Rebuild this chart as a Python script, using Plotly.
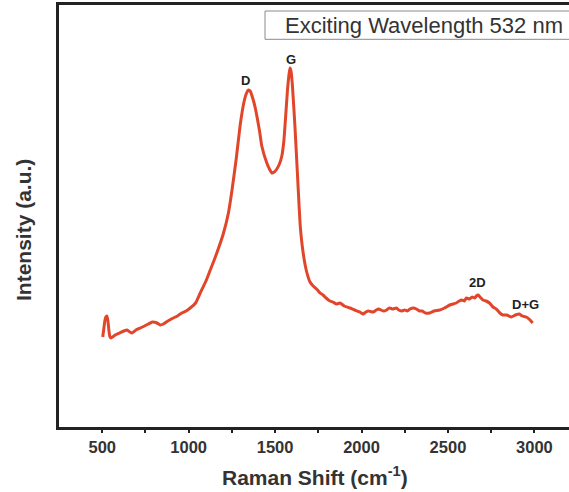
import plotly.graph_objects as go

raman_shift = [503, 509, 515, 521, 527, 533, 539, 545, 552, 560, 575, 600, 625, 644, 660, 673, 695, 720, 745, 767, 790, 817,
               835, 854, 880, 911, 935, 960, 985, 1009, 1040, 1067, 1100, 1125, 1150, 1171, 1200, 1230, 1250, 1275,
               1298, 1320, 1335, 1346, 1356, 1365, 1384, 1410, 1423, 1452, 1470, 1481, 1495, 1510, 1525, 1539, 1550,
               1558, 1572, 1580, 1586, 1592, 1600, 1615, 1634, 1645, 1660, 1680, 1702, 1720, 1740, 1760, 1777, 1795,
               1817, 1834, 1855, 1875, 1900, 1933, 1960, 1990, 2009, 2025, 2040, 2067, 2085, 2100, 2125, 2145, 2160,
               2180, 2202, 2215, 2230, 2250, 2265, 2280, 2300, 2317, 2335, 2350, 2370, 2394, 2420, 2452, 2480, 2510,
               2530, 2548, 2565, 2580, 2595, 2606, 2625, 2640, 2655, 2664, 2675, 2685, 2702, 2720, 2740, 2760, 2779,
               2800, 2817, 2840, 2866, 2890, 2913, 2930, 2952, 2975, 2990]
intensity = [90, 98, 106, 110, 111, 106, 96, 90, 89, 90, 92, 94, 96, 97, 95, 94, 97, 99, 101, 103, 105, 104,
             102, 103, 106, 109, 111, 114, 116, 119, 124, 134, 146, 157, 168, 178, 193, 214, 236, 268,
             302, 325, 334, 337, 336, 332, 320, 296, 281, 264, 257, 254, 255, 258, 263, 271, 285,
             303, 338, 352, 359, 356, 342, 300, 237, 202, 177, 157, 145, 141, 138, 134, 132, 129,
             126, 125, 123, 124, 121, 119, 117, 115, 113, 115, 116, 115, 117, 118, 116, 117, 119,
             118, 119, 117, 116, 117, 116, 118, 119, 118, 116, 116, 114, 114, 116, 117, 119, 122,
             123, 124, 126, 127, 126, 129, 128, 130, 129, 131, 132, 130, 127, 126, 124, 120, 118,
             114, 112, 112, 110, 112, 113, 111, 110, 107, 104]

peak_labels = ["D", "G", "2D", "D+G"]
peak_x = [1331, 1590, 2673, 2948]
peak_y = [347, 368, 145, 123]

x_ticks = [500, 1000, 1500, 2000, 2500, 3000]

fig = go.Figure()
fig.add_trace(go.Scatter(x=raman_shift, y=intensity, mode="lines",
                         line=dict(color="#E2462A", width=3, shape="spline", smoothing=0.4),
                         hoverinfo="skip", showlegend=False))

for lab, px, py in zip(peak_labels, peak_x, peak_y):
    fig.add_annotation(x=px, y=py, text=f"<b>{lab}</b>", showarrow=False, xanchor="center", yanchor="middle",
                       font=dict(family="Liberation Sans, Arial", size=13, color="#222222"))

fig.update_layout(
    width=569, height=492,
    margin=dict(l=59, r=0, t=5, b=65),
    paper_bgcolor="white", plot_bgcolor="white",
    font=dict(family="Liberation Sans, Arial", color="#333333"),
    xaxis=dict(range=[250, 3200], tickvals=x_ticks, ticktext=[f"<b>{v}</b>" for v in x_ticks],
               ticks="outside", ticklen=3, tickwidth=1.5, tickcolor="#222222",
               minor=dict(tickvals=[750, 1250, 1750, 2250, 2750], ticks="outside", ticklen=3,
                          tickcolor="#222222", tickwidth=1.5),
               tickfont=dict(size=16.5, color="#333333"),
               showline=True, linecolor="#222222", linewidth=2.5, mirror=True,
               showgrid=False, zeroline=False),
    yaxis=dict(range=[0, 422], showticklabels=False, ticks="", showline=True, linecolor="#222222",
               linewidth=2.5, mirror=False, showgrid=False, zeroline=False),
)

# legend-like box
fig.add_shape(type="rect", xref="paper", yref="paper", x0=(265 - 59) / 510, x1=1.2,
              y0=(427 - 39.3) / 422, y1=(427 - 11) / 422, line=dict(color="#8a8a8a", width=1),
              fillcolor="white", layer="above")
fig.add_annotation(xref="paper", yref="paper", x=(283 - 59) / 510, y=(427 - 25.5) / 422,
                   text="Exciting Wavelength 532 nm", showarrow=False, xanchor="left", yanchor="middle",
                   font=dict(size=22, color="#333333"))

# axis titles
fig.add_annotation(xref="paper", yref="paper", x=(315 - 59) / 510, y=(427 - 476) / 422,
                   text="<b>Raman Shift (cm<sup>-1</sup>)</b>", showarrow=False,
                   xanchor="center", yanchor="middle", font=dict(size=21, color="#333333"))
fig.add_annotation(xref="paper", yref="paper", x=(23 - 59) / 510, y=(427 - 230) / 422,
                   text="<b>Intensity (a.u.)</b>", showarrow=False, textangle=-90,
                   xanchor="center", yanchor="middle", font=dict(size=21, color="#333333"))

fig.write_html("out.html")
